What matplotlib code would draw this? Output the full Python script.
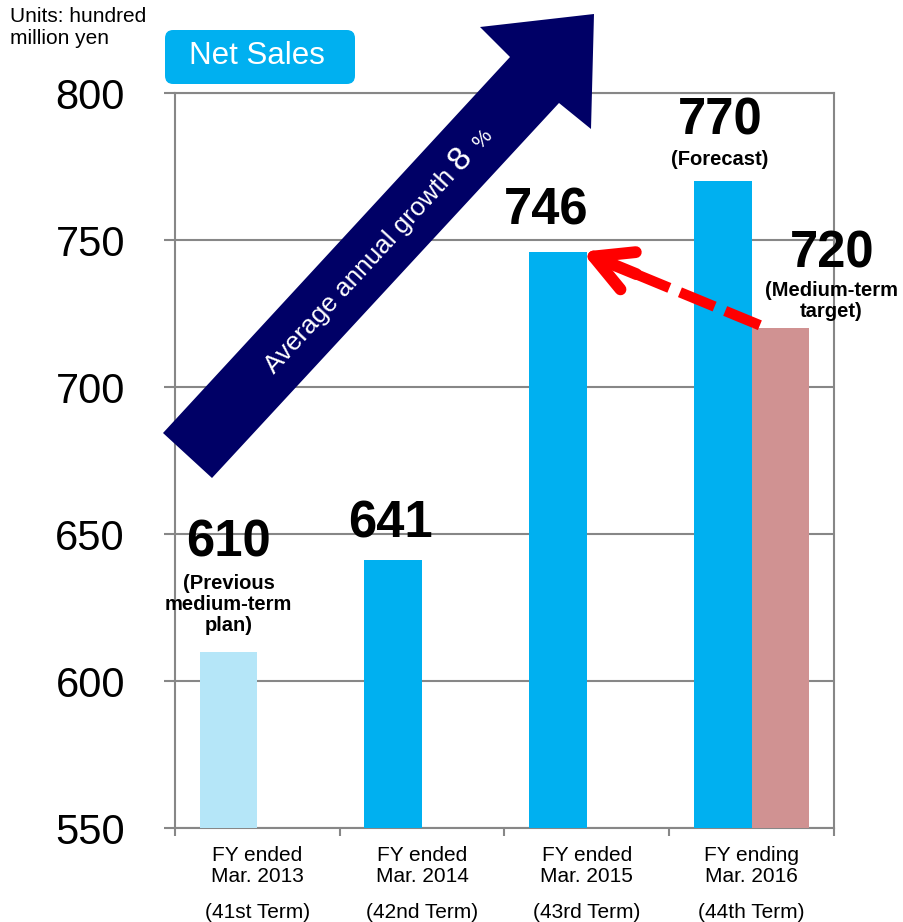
import matplotlib.pyplot as plt
import numpy as np
from matplotlib.patches import Polygon, FancyBboxPatch
from matplotlib.textpath import TextPath
from matplotlib.font_manager import FontProperties

plt.rcParams['font.family'] = ['Liberation Sans', 'DejaVu Sans']

# data (hundred million yen)
periods = ['FY ended\nMar. 2013', 'FY ended\nMar. 2014', 'FY ended\nMar. 2015', 'FY ending\nMar. 2016']
terms = ['(41st Term)', '(42nd Term)', '(43rd Term)', '(44th Term)']
net_sales = [610, 641, 746, 770]
target_720 = 720
sales_notes = ['(Previous\nmedium-term\nplan)', '', '', '(Forecast)']
target_note = '(Medium-term\ntarget)'
yticks = [550, 600, 650, 700, 750, 800]

W, H = 904, 922
fig = plt.figure(figsize=(W / 100, H / 100), dpi=100)

def fpx(x, y):
    # pixel (top-left origin) -> figure fraction
    return (x / W, 1 - y / H)

ax = fig.add_axes([175 / W, 1 - 828 / H, 659 / W, 735 / H])
grey = '#878787'

x = np.arange(len(net_sales))
bw = 0.35
main_cols = ['#B5E6F8', '#00B0F0', '#00B0F0', '#00B0F0']
ax.bar(x - bw / 2, net_sales, bw, color=main_cols, zorder=3)
ax.bar(x[3] + bw / 2, target_720, bw, color='#D09292', zorder=3)

ax.set_xlim(-0.5, 3.5)
ax.set_ylim(550, 800)
ax.set_yticks(yticks)
ax.tick_params(axis='y', labelsize=30, length=8, width=1.5, color=grey, pad=28)
ax.set_xticks(x)
ax.set_xticklabels(periods, fontsize=15, linespacing=1.1)
ax.set_xticks(np.arange(-0.5, 4, 1), minor=True)
ax.tick_params(axis='x', which='major', length=0, pad=13)
ax.tick_params(axis='x', which='minor', length=6, width=1.5, color=grey)
ax.grid(axis='y', color=grey, lw=1.5, zorder=0)
for s in ax.spines.values():
    s.set_color(grey)
    s.set_linewidth(1.5)

for i, t in enumerate(terms):
    ax.annotate(t, xy=(x[i], 0), xycoords=('data', 'axes fraction'),
                xytext=(0, -84), textcoords='offset pixels',
                ha='center', va='center', fontsize=15)

# value labels
num_off = [(0, 95), (-3, 23), (-12, 27), (-3, 47)]
note_off = [(0, 47), None, None, (-3, 22)]
for i, v in enumerate(net_sales):
    ax.annotate(str(v), xy=(x[i] - bw / 2, v), xytext=num_off[i],
                textcoords='offset pixels', ha='center', va='baseline',
                fontsize=36.5, fontweight='bold', zorder=5)
    if sales_notes[i]:
        ax.annotate(sales_notes[i], xy=(x[i] - bw / 2, v), xytext=note_off[i],
                    textcoords='offset pixels', ha='center', va='center',
                    fontsize=14.5, fontweight='bold', linespacing=1.15, zorder=5)
ax.annotate(str(target_720), xy=(x[3] + bw / 2, target_720), xytext=(52, 61),
            textcoords='offset pixels', ha='center', va='baseline',
            fontsize=36.5, fontweight='bold', zorder=5, annotation_clip=False)
ax.annotate(target_note, xy=(x[3] + bw / 2, target_720), xytext=(51, 27),
            textcoords='offset pixels', ha='center', va='center',
            fontsize=14.5, fontweight='bold', linespacing=1.15, zorder=5,
            annotation_clip=False)

# red dashed arrow from target back to FY2015 result
ax.plot([3.05, 2.25], [721, 739.5], color='red', lw=7.5, dashes=(3.6, 1.1), zorder=6)
ax.annotate('', xy=(1.97, 746), xytext=(2.3, 738.4),
            arrowprops=dict(arrowstyle='->,head_length=2.7,head_width=1.45',
                            color='red', lw=8.5, capstyle='round', joinstyle='round',
                            shrinkA=0, shrinkB=0), zorder=6)

# big navy growth arrow
arrow_px = [(163, 433), (510, 57), (480, 27), (594, 14), (591, 129), (559, 103), (212, 478)]
fig.patches.append(Polygon([fpx(*p) for p in arrow_px], closed=True, transform=fig.transFigure,
                           facecolor='#000066', edgecolor='none', zorder=4))
ang = 47.3
d = np.array([np.cos(np.radians(ang)), -np.sin(np.radians(ang))])
s0 = np.array([266, 383])
prop = FontProperties(family='Liberation Sans')

def width_px(s, fs):
    return TextPath((0, 0), s, size=fs, prop=prop).get_extents().width * 100 / 72

main_txt, main_fs = 'Average annual growth', 18.8
a8 = 287
pieces = [(main_txt, main_fs, a8 - 9 - width_px(main_txt, main_fs)),
          ('8', 24, a8),
          ('%', 15, a8 + width_px('8', 24) + 14)]
for txt, fs, along in pieces:
    p = s0 + d * along
    fig.text(*fpx(*p), txt, color='white', fontsize=fs, rotation=ang,
             rotation_mode='anchor', ha='left', va='baseline', zorder=5)

# header items
fig.patches.append(FancyBboxPatch(fpx(165, 84), 190 / W, 54 / H,
                                  boxstyle='round,pad=0,rounding_size=0.009',
                                  transform=fig.transFigure, facecolor='#00B0F0',
                                  edgecolor='none'))
fig.text(*fpx(257, 56), 'Net Sales', color='white', fontsize=22.5, ha='center', va='center')
fig.text(*fpx(10, 7), 'Units: hundred\nmillion yen', fontsize=15, ha='left', va='top',
         linespacing=1.2)

fig.savefig('out.png', dpi=100)
